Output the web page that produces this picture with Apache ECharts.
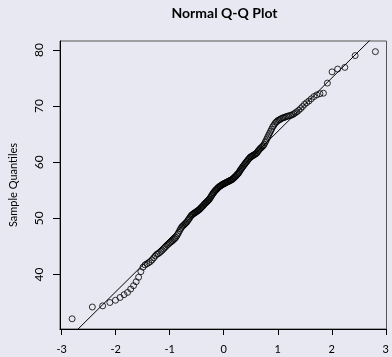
<!DOCTYPE html>
<html>
<head>
<meta charset="utf-8">
<script src="https://cdn.jsdelivr.net/npm/echarts@6/dist/echarts.min.js"></script>
<style>
html,body{margin:0;padding:0;background:#e8e8f2;}
#chart{width:392px;height:357px;}
</style>
</head>
<body>
<div id="chart"></div>
<script>
// Sorted sample values (n = 200)
const sampleValues = [
  32.1, 34.2, 34.4, 35.0, 35.4, 35.9, 36.4, 36.8, 37.4, 38.0,
  38.7, 39.5, 40.5, 41.3, 41.7, 41.9, 42.1, 42.3, 42.6, 42.95,
  43.3, 43.6, 43.7, 43.9, 44.1, 44.3, 44.55, 44.8, 45.0, 45.25,
  45.4, 45.6, 45.75, 45.9, 46.05, 46.25, 46.4, 46.6, 46.9, 47.2,
  47.5, 47.85, 48.15, 48.4, 48.6, 48.75, 48.9, 49.05, 49.2, 49.35,
  49.6, 49.8, 50.0, 50.25, 50.45, 50.6, 50.7, 50.8, 50.95, 51.0,
  51.1, 51.2, 51.3, 51.4, 51.5, 51.6, 51.75, 51.9, 52.0, 52.15,
  52.3, 52.45, 52.6, 52.7, 52.85, 52.95, 53.1, 53.2, 53.35, 53.5,
  53.7, 53.9, 54.1, 54.3, 54.5, 54.6, 54.8, 54.95, 55.05, 55.2,
  55.3, 55.45, 55.55, 55.65, 55.75, 55.8, 55.9, 56.0, 56.05, 56.1,
  56.2, 56.25, 56.3, 56.35, 56.45, 56.5, 56.55, 56.6, 56.7, 56.75,
  56.8, 56.85, 56.95, 57.05, 57.15, 57.3, 57.4, 57.5, 57.65, 57.8,
  57.9, 58.05, 58.25, 58.45, 58.65, 58.85, 59.0, 59.2, 59.35, 59.55,
  59.7, 59.9, 60.05, 60.2, 60.4, 60.55, 60.7, 60.9, 60.95, 61.05,
  61.15, 61.2, 61.3, 61.4, 61.5, 61.6, 61.75, 62.0, 62.15, 62.35,
  62.5, 62.65, 62.8, 62.95, 63.15, 63.5, 63.8, 64.15, 64.5, 64.85,
  65.2, 65.55, 65.9, 66.3, 66.55, 66.85, 67.1, 67.25, 67.45, 67.55,
  67.65, 67.8, 67.9, 67.95, 68.05, 68.15, 68.2, 68.3, 68.35, 68.45,
  68.6, 68.8, 69.0, 69.25, 69.55, 69.9, 70.3, 70.6, 70.9, 71.3,
  71.7, 72.0, 72.2, 72.3, 74.1, 76.1, 76.6, 76.9, 79.0, 79.7
];
const xTicks = [-3, -2, -1, 0, 1, 2, 3];
const yTicks = [40, 50, 60, 70, 80];
const titleText = 'Normal Q-Q Plot';
const yAxisTitle = 'Sample Quantiles';

// inverse normal CDF (Acklam)
function qnorm(p){
  const a=[-3.969683028665376e+01,2.209460984245205e+02,-2.759285104469687e+02,1.383577518672690e+02,-3.066479806614716e+01,2.506628277459239e+00];
  const b=[-5.447609879822406e+01,1.615858368580409e+02,-1.556989798598866e+02,6.680131188771972e+01,-1.328068155288572e+01];
  const c=[-7.784894002430293e-03,-3.223964580411365e-01,-2.400758277161838e+00,-2.549732539343734e+00,4.374664141464968e+00,2.938163982698783e+00];
  const d=[7.784695709041462e-03,3.224671290700398e-01,2.445134137142996e+00,3.754408661907416e+00];
  const plow=0.02425, phigh=1-plow;
  let q,r;
  if(p<plow){q=Math.sqrt(-2*Math.log(p));return (((((c[0]*q+c[1])*q+c[2])*q+c[3])*q+c[4])*q+c[5])/((((d[0]*q+d[1])*q+d[2])*q+d[3])*q+1);}
  if(p>phigh){q=Math.sqrt(-2*Math.log(1-p));return -(((((c[0]*q+c[1])*q+c[2])*q+c[3])*q+c[4])*q+c[5])/((((d[0]*q+d[1])*q+d[2])*q+d[3])*q+1);}
  q=p-0.5;r=q*q;
  return (((((a[0]*r+a[1])*r+a[2])*r+a[3])*r+a[4])*r+a[5])*q/(((((b[0]*r+b[1])*r+b[2])*r+b[3])*r+b[4])*r+1);
}
function quantile7(sorted, p){
  const h=(sorted.length-1)*p; const lo=Math.floor(h); const hi=Math.min(lo+1,sorted.length-1);
  return sorted[lo]+(h-lo)*(sorted[hi]-sorted[lo]);
}

const n = sampleValues.length;
const points = sampleValues.map((v,i)=>[qnorm((i+1-0.5)/n), v]);

const xMin=-3.031, xMax=3.013, yMin=30.28, yMax=81.6;
// qqline through the quartiles
const q1=quantile7(sampleValues,0.25), q3=quantile7(sampleValues,0.75);
const z1=qnorm(0.25), z3=qnorm(0.75);
const slope=(q3-q1)/(z3-z1), intercept=q1-slope*z1;
const linePts=[[xMin, intercept+slope*xMin],[xMax, intercept+slope*xMax]];

const font='Lato';
const chart = echarts.init(document.getElementById('chart'), null, {renderer:'canvas'});
chart.setOption({
  backgroundColor:'#e8e8f2',
  animation:false,
  title:{text:titleText,left:224.5,top:6,padding:0,textAlign:'center',
    textStyle:{fontFamily:font,fontSize:14,fontWeight:'bold',color:'#000'}},
  grid:{left:60,right:3,top:41,bottom:28,show:true,borderColor:'#555',borderWidth:1,backgroundColor:'transparent'},
  xAxis:{type:'value',min:xMin,max:xMax,
    axisLine:{show:true,onZero:false,lineStyle:{color:'#000',width:1}},
    axisTick:{show:true,length:6,inside:false,customValues:xTicks,lineStyle:{color:'#000'}},
    axisLabel:{customValues:xTicks,margin:15,fontFamily:font,fontSize:11,color:'#000',showMinLabel:true,showMaxLabel:true},
    splitLine:{show:false}},
  yAxis:{type:'value',min:yMin,max:yMax,
    name:yAxisTitle,nameLocation:'middle',nameRotate:90,nameGap:41,
    nameTextStyle:{fontFamily:font,fontSize:11,color:'#000'},
    axisLine:{show:true,onZero:false,lineStyle:{color:'#000',width:1}},
    axisTick:{show:true,length:7,customValues:yTicks,lineStyle:{color:'#000'}},
    axisLabel:{customValues:yTicks,rotate:90,margin:15,fontFamily:font,fontSize:12,color:'#000'},
    splitLine:{show:false}},
  series:[
    {type:'line',data:linePts,showSymbol:false,silent:true,clip:true,
      lineStyle:{color:'#000',width:1},z:3},
    {type:'scatter',data:points,symbol:'circle',symbolSize:6,silent:true,
      itemStyle:{color:'rgba(0,0,0,0)',borderColor:'#000',borderWidth:1},z:2}
  ]
});
</script>
</body>
</html>
